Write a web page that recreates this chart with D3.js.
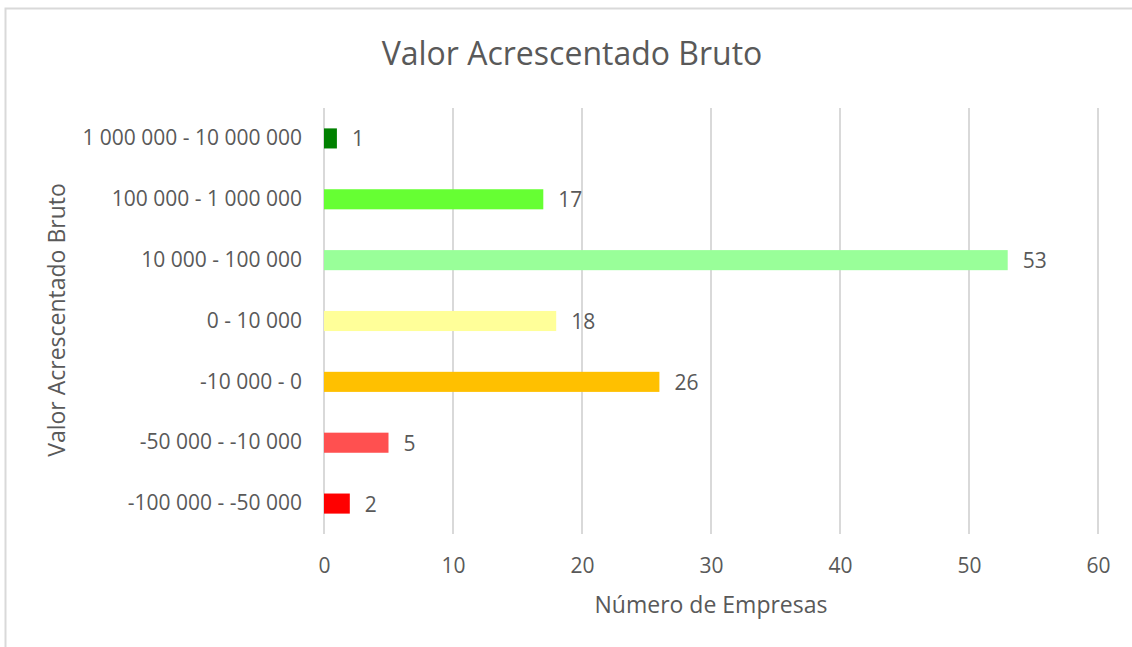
<!DOCTYPE html>
<html>
<head>
<meta charset="utf-8">
<script src="https://cdn.jsdelivr.net/npm/d3@7"></script>
<style>
  html, body { margin: 0; padding: 0; background: #ffffff; overflow: hidden; }
  svg { display: block; }
  text { font-family: "Open Sans", "DejaVu Sans", sans-serif; fill: #595959; }
</style>
</head>
<body>
<svg id="chart" width="1132" height="647"></svg>
<script>
// ---- data ----
const categories = [
  "1 000 000 - 10 000 000",
  "100 000 - 1 000 000",
  "10 000 - 100 000",
  "0 - 10 000",
  "-10 000 - 0",
  "-50 000 - -10 000",
  "-100 000 - -50 000"
];
const values = [1, 17, 53, 18, 26, 5, 2];
const barColors = ["#008000", "#66FF33", "#99FF99", "#FFFF99", "#FFC000", "#FF5050", "#FF0000"];
const xTicks = [0, 10, 20, 30, 40, 50, 60];
const chartTitle = "Valor Acrescentado Bruto";
const xTitle = "Número de Empresas";
const yTitle = "Valor Acrescentado Bruto";

// ---- layout ----
const svg = d3.select("#chart");
const plot = { left: 324, right: 1098, top: 108, bottom: 534 };

// outer chart border (only left and top edges fall inside the picture)
svg.append("rect")
  .attr("x", 5.5).attr("y", 8.5)
  .attr("width", 2000).attr("height", 2000)
  .attr("fill", "#ffffff")
  .attr("stroke", "#d9d9d9").attr("stroke-width", 2);

const x = d3.scaleLinear().domain([0, 60]).range([plot.left, plot.right]);
const y = d3.scaleBand().domain(categories).range([plot.top, plot.bottom])
  .paddingInner(0.67).paddingOuter(0.335);

// gridlines
svg.append("g").selectAll("line").data(xTicks).join("line")
  .attr("x1", d => x(d)).attr("x2", d => x(d))
  .attr("y1", plot.top).attr("y2", plot.bottom)
  .attr("stroke", "#d9d9d9").attr("stroke-width", 2);

// x axis tick labels
const xAxis = d3.axisBottom(x).tickValues(xTicks).tickSize(0).tickPadding(0);
const gx = svg.append("g").attr("transform", `translate(0, ${plot.bottom})`).call(xAxis);
gx.select(".domain").remove();
gx.selectAll("text")
  .attr("dy", null).attr("y", 39)
  .style("font-size", "21px").attr("fill", "#595959")
  .style("font-family", "'Open Sans', sans-serif");

// y axis category labels
const yAxis = d3.axisLeft(y).tickSize(0).tickPadding(22);
const gy = svg.append("g").attr("transform", `translate(${plot.left}, 0)`).call(yAxis);
gy.select(".domain").remove();
gy.selectAll("text")
  .style("font-size", "21px").attr("fill", "#595959")
  .style("font-family", "'Open Sans', sans-serif");

// bars
svg.append("g").selectAll("rect").data(categories).join("rect")
  .attr("x", x(0))
  .attr("y", d => y(d))
  .attr("width", (d, i) => x(values[i]) - x(0))
  .attr("height", y.bandwidth())
  .attr("fill", (d, i) => barColors[i]);

// data labels
svg.append("g").selectAll("text").data(categories).join("text")
  .attr("x", (d, i) => x(values[i]) + 15)
  .attr("y", d => y(d) + y.bandwidth() / 2)
  .attr("dy", "0.38em")
  .style("font-size", "21px")
  .text((d, i) => values[i]);

// chart title
svg.append("text")
  .attr("x", 572).attr("y", 65)
  .attr("text-anchor", "middle")
  .style("font-size", "32px")
  .text(chartTitle);

// x axis title
svg.append("text")
  .attr("x", 711).attr("y", 613)
  .attr("text-anchor", "middle")
  .style("font-size", "23px")
  .text(xTitle);

// y axis title
svg.append("text")
  .attr("transform", "translate(65, 320) rotate(-90)")
  .attr("text-anchor", "middle")
  .style("font-size", "23px")
  .text(yTitle);
</script>
</body>
</html>
